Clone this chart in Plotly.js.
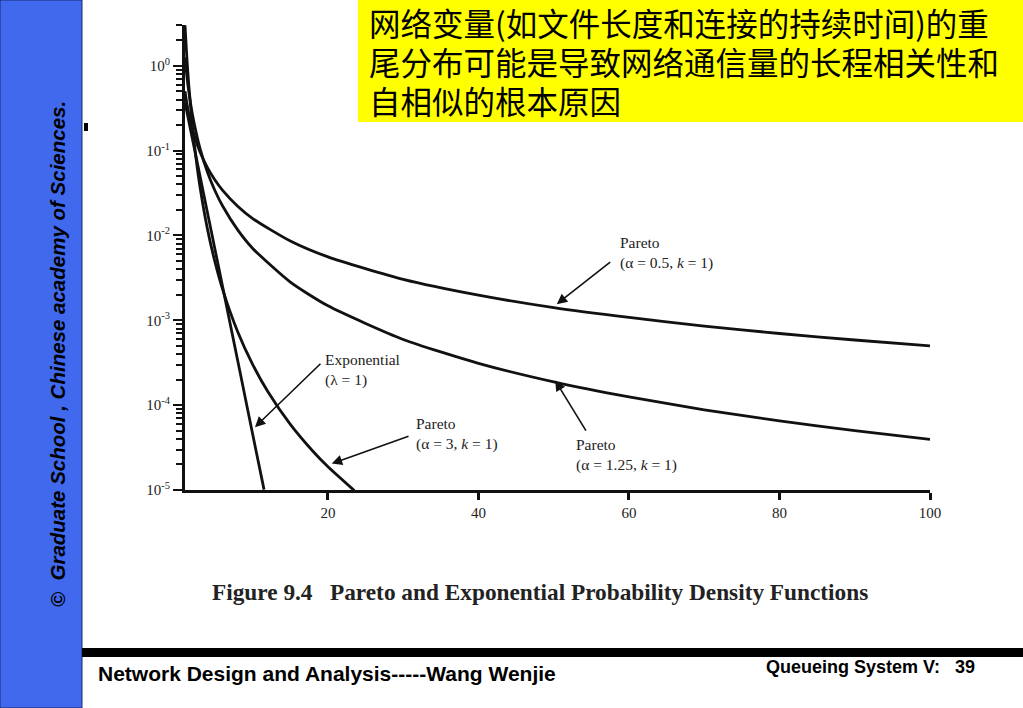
<!DOCTYPE html>
<html>
<head>
<meta charset="utf-8">
<script src="https://cdn.plot.ly/plotly-3.0.1.min.js"></script>
<style>
  html, body { margin: 0; padding: 0; background: #ffffff; }
  #chart { width: 1023px; height: 708px; }
</style>
</head>
<body>
<div id="chart"></div>
<script>
// ---- data ----
const paretoA05X = [1, 1.25, 1.5, 2, 3, 4, 5, 6, 8, 10, 15, 20, 30, 40, 50, 60, 70, 80, 90, 100];
const paretoA05Y = [0.5, 0.358, 0.272, 0.177, 0.0962, 0.0625, 0.0447, 0.034, 0.0221, 0.0158, 0.0086, 0.00559, 0.00304, 0.00198, 0.00141, 0.00108, 0.000854, 0.000699, 0.000586, 0.0005];

const paretoA125X = [1, 1.25, 1.5, 2, 3, 4, 5, 6, 8, 10, 15, 20, 30, 40, 50, 60, 70, 80, 90, 100];
const paretoA125Y = [1.25, 0.757, 0.502, 0.263, 0.1056, 0.0552, 0.0334, 0.0222, 0.01162, 0.00703, 0.00282, 0.00148, 0.000594, 0.000311, 0.000188, 0.000125, 0.0000882, 0.0000653, 0.0000501, 0.0000395];

const paretoA3X = [1, 1.25, 1.5, 2, 2.5, 3, 4, 5, 6, 8, 10, 12, 15, 18, 20, 23.5];
const paretoA3Y = [3, 1.229, 0.593, 0.1875, 0.0768, 0.037, 0.0117, 0.0048, 0.00231, 0.000732, 0.0003, 0.000145, 0.0000593, 0.0000286, 0.00001875, 0.00000984];

const expX = [1, 2, 3, 4, 5, 6, 7, 8, 9, 10, 11, 11.5];
const expY = [0.368, 0.135, 0.0498, 0.0183, 0.00674, 0.00248, 0.000912, 0.000335, 0.000123, 0.000045, 0.0000167, 0.0000101];

const xTickVals = [20, 40, 60, 80, 100];
const xTickText = ['20', '40', '60', '80', '100'];
const yTickVals = [1e-5, 1e-4, 1e-3, 1e-2, 1e-1, 1];
const yTickText = ['10<sup>-5</sup>', '10<sup>-4</sup>', '10<sup>-3</sup>', '10<sup>-2</sup>', '10<sup>-1</sup>', '10<sup>0</sup>'];
const yMinorMultipliers = [2, 3, 4, 5, 6, 7, 8, 9];

const labelPareto05 = 'Pareto<br>(\u03B1 = 0.5, <i>k</i> = 1)';
const labelPareto125 = 'Pareto<br>(\u03B1 = 1.25, <i>k</i> = 1)';
const labelPareto3 = 'Pareto<br>(\u03B1 = 3, <i>k</i> = 1)';
const labelExp = 'Exponential<br>(\u03BB = 1)';
const captionText = 'Figure 9.4\u00A0\u00A0\u00A0Pareto and Exponential Probability Density Functions';
const bannerLines = ['网络变量(如文件长度和连接的持续时间)的重', '尾分布可能是导致网络通信量的长程相关性和', '自相似的根本原因'];
const sideText = '\u00A9  Graduate School , Chinese academy of Sciences.';
const footerLeft = 'Network Design and Analysis-----Wang Wenjie';
const footerRight = 'Queueing System V:\u00A0\u00A0\u00A039';

// ---- layout helpers (pixel -> paper) ----
const W = 1023, H = 708;
const M = { l: 185, r: 93, t: 25, b: 218 };
const PW = W - M.l - M.r, PH = H - M.t - M.b;
const px = v => (v - M.l) / PW;
const py = v => (H - M.b - v) / PH;

const minorVals = [];
for (let d = -5; d < 1; d++) {
  for (const m of yMinorMultipliers) minorVals.push(m * Math.pow(10, d));
}

const lineStyle = { color: '#111111', width: 2.8, shape: 'spline', smoothing: 0.6 };
const traces = [
  { x: paretoA05X, y: paretoA05Y, mode: 'lines', line: lineStyle, hoverinfo: 'skip' },
  { x: paretoA125X, y: paretoA125Y, mode: 'lines', line: lineStyle, hoverinfo: 'skip' },
  { x: paretoA3X, y: paretoA3Y, mode: 'lines', line: lineStyle, hoverinfo: 'skip' },
  { x: expX, y: expY, mode: 'lines', line: lineStyle, hoverinfo: 'skip' }
];

const serif = 'Liberation Serif, Times New Roman, serif';
const labelFont = { family: serif, size: 15.5, color: '#222222' };
const tickFont = { family: serif, size: 15, color: '#222222' };

function arrow(hx, hy, tx, ty) {
  return {
    xref: 'x', yref: 'y', axref: 'x', ayref: 'y',
    x: hx, y: Math.log10(hy), ax: tx, ay: Math.log10(ty),
    text: '', showarrow: true, arrowhead: 2, arrowsize: 1.3, arrowwidth: 1.6,
    arrowcolor: '#111111', standoff: 0, startstandoff: 0
  };
}
function label(text, x, y) {
  return {
    xref: 'x', yref: 'y', x: x, y: Math.log10(y), text: text, showarrow: false,
    xanchor: 'left', yanchor: 'middle', align: 'left', font: labelFont
  };
}

const annotations = [
  label(labelPareto05, 58.6, 0.0062),
  arrow(50.4, 0.00155, 57.7, 0.005),
  label(labelPareto125, 52.7, 0.000026),
  arrow(50.2, 0.000195, 54.4, 0.000048),
  label(labelPareto3, 31.4, 0.0000455),
  arrow(20.5, 0.0000205, 30.9, 0.0000435),
  label(labelExp, 19.4, 0.000257),
  arrow(10.3, 0.000055, 19.2, 0.00032),
  {
    xref: 'paper', yref: 'paper', x: px(540), y: py(592), text: captionText, showarrow: false,
    xanchor: 'center', yanchor: 'middle',
    font: { family: serif, size: 23.3, color: '#222222', weight: 'bold' }
  },
  {
    xref: 'paper', yref: 'paper', x: px(57), y: py(354), text: sideText, showarrow: false,
    textangle: -90, xanchor: 'center', yanchor: 'middle',
    font: { family: 'Liberation Sans, Arial, sans-serif', size: 20.5, color: '#000000', weight: 'bold', style: 'italic' }
  },
  {
    xref: 'paper', yref: 'paper', x: px(96), y: py(673), text: footerLeft, showarrow: false,
    xanchor: 'left', yanchor: 'middle',
    font: { family: 'Liberation Sans, Arial, sans-serif', size: 21, color: '#000000', weight: 'bold' }
  },
  {
    xref: 'paper', yref: 'paper', x: px(764), y: py(667), text: footerRight, showarrow: false,
    xanchor: 'left', yanchor: 'middle',
    font: { family: 'Liberation Sans, Arial, sans-serif', size: 18, color: '#000000', weight: 'bold' }
  }
];

const bannerCenters = [22, 61, 100];
bannerLines.forEach((t, i) => {
  annotations.push({
    xref: 'paper', yref: 'paper', x: px(367), y: py(bannerCenters[i]), text: t, showarrow: false,
    xanchor: 'left', yanchor: 'middle', align: 'left',
    font: { family: 'Noto Sans CJK SC, sans-serif', size: 31.5, color: '#000000' }
  });
});

const shapes = [
  { type: 'rect', xref: 'paper', yref: 'paper', x0: px(0), x1: px(82), y0: py(708), y1: py(0),
    fillcolor: '#4169EE', line: { color: '#1a2a70', width: 1 }, layer: 'below' },
  { type: 'rect', xref: 'paper', yref: 'paper', x0: px(358), x1: px(1023), y0: py(122), y1: py(0),
    fillcolor: '#FFFF00', line: { width: 0 }, layer: 'above' },
  { type: 'rect', xref: 'paper', yref: 'paper', x0: px(82), x1: px(1023), y0: py(657), y1: py(648),
    fillcolor: '#000000', line: { width: 0 }, layer: 'above' },
  { type: 'rect', xref: 'paper', yref: 'paper', x0: px(84), x1: px(88), y0: py(131), y1: py(123),
    fillcolor: '#000000', line: { width: 0 }, layer: 'above' }
];

const layout = {
  width: W, height: H,
  margin: M,
  paper_bgcolor: '#ffffff', plot_bgcolor: '#ffffff',
  showlegend: false,
  xaxis: {
    type: 'linear', range: [1, 100], showgrid: false, zeroline: false,
    showline: true, linecolor: '#111111', linewidth: 3,
    tickmode: 'array', tickvals: xTickVals, ticktext: xTickText,
    ticks: 'outside', ticklen: 7, tickwidth: 3, tickcolor: '#111111',
    tickfont: tickFont, fixedrange: true
  },
  yaxis: {
    type: 'log', range: [-5, 0.48], showgrid: false, zeroline: false,
    showline: true, linecolor: '#111111', linewidth: 3,
    tickmode: 'array', tickvals: yTickVals, ticktext: yTickText,
    ticks: 'outside', ticklen: 9, tickwidth: 2, tickcolor: '#111111',
    tickfont: tickFont, fixedrange: true,
    minor: { tickmode: 'array', tickvals: minorVals, ticks: 'outside', ticklen: 6, tickwidth: 2, tickcolor: '#111111', showgrid: false }
  },
  annotations: annotations,
  shapes: shapes
};

Plotly.newPlot('chart', traces, layout, { displayModeBar: false, staticPlot: true });
</script>
</body>
</html>
